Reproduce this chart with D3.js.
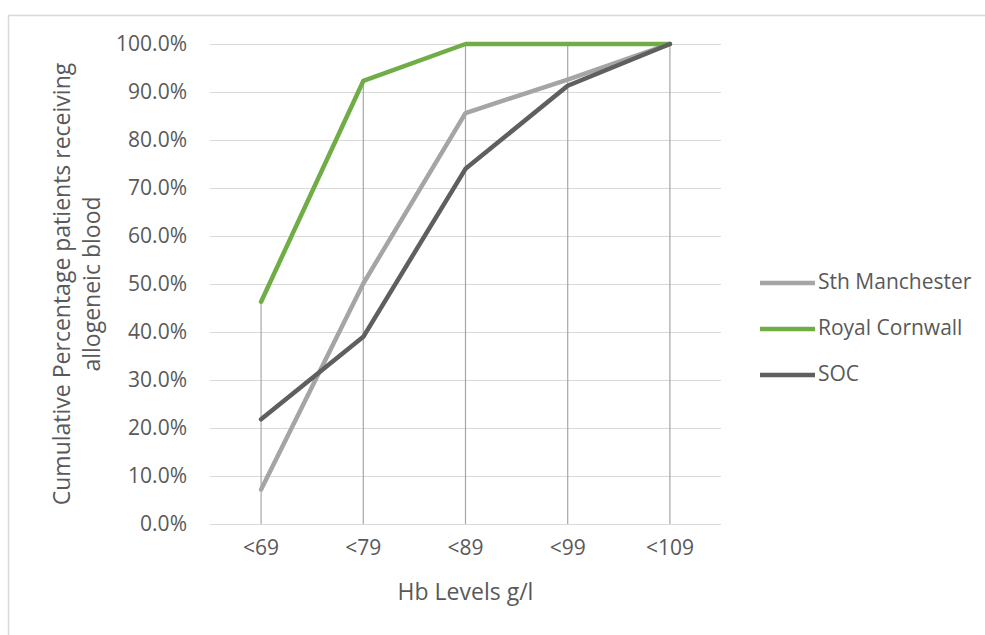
<!DOCTYPE html>
<html>
<head>
<meta charset="utf-8">
<script src="https://cdn.jsdelivr.net/npm/d3@7"></script>
<style>
  html, body { margin: 0; padding: 0; background: #fff; }
  svg { display: block; }
  text { font-family: "Open Sans", "Noto Sans", sans-serif; fill: #595959; }
</style>
</head>
<body>
<svg id="chart" width="985" height="635"></svg>
<script>
// Hb level bands (upper bound, g/l)
const categories = ["<69", "<79", "<89", "<99", "<109"];

// Cumulative share of patients receiving allogeneic blood, per site
const sthManchester = [0.072, 0.501, 0.856, 0.926, 1.0];
const royalCornwall = [0.463, 0.923, 1.0, 1.0, 1.0];
const soc = [0.218, 0.390, 0.740, 0.913, 1.0];

const seriesNames = ["Sth Manchester", "Royal Cornwall", "SOC"];
const seriesColors = ["#a5a5a5", "#70ad47", "#5f5f5f"];
const yTicks = [0, 0.1, 0.2, 0.3, 0.4, 0.5, 0.6, 0.7, 0.8, 0.9, 1.0];

const series = [sthManchester, royalCornwall, soc].map((values, i) => ({
  name: seriesNames[i],
  color: seriesColors[i],
  values
}));

const svg = d3.select("#chart");
const plot = { left: 210, right: 721, top: 44, bottom: 524 };

// Chart frame
svg.append("rect")
  .attr("x", 8.5).attr("y", 15.5)
  .attr("width", 1100).attr("height", 800)
  .attr("fill", "none")
  .attr("stroke", "#d9d9d9")
  .attr("stroke-width", 1.5);

const x = d3.scaleBand().domain(categories).range([plot.left, plot.right]);
const y = d3.scaleLinear().domain([0, 1]).range([plot.bottom, plot.top]);
const cx = c => x(c) + x.bandwidth() / 2;

// Horizontal gridlines and percentage labels
const yAxis = svg.append("g")
  .attr("transform", `translate(${plot.left},0)`)
  .call(d3.axisLeft(y)
    .tickValues(yTicks)
    .tickFormat(d3.format(".1%"))
    .tickSize(-(plot.right - plot.left))
    .tickPadding(23));
yAxis.select(".domain").remove();
yAxis.selectAll(".tick line").attr("stroke", "#d9d9d9").attr("stroke-width", 1.2);
yAxis.selectAll(".tick text")
  .attr("font-size", 21)
  .attr("fill", "#595959")
  .attr("font-family", "'Open Sans', sans-serif");

// Category labels
const xAxis = svg.append("g")
  .attr("transform", `translate(0,${plot.bottom})`)
  .call(d3.axisBottom(x).tickSize(0).tickPadding(16));
xAxis.select(".domain").remove();
xAxis.selectAll(".tick text")
  .attr("font-size", 21)
  .attr("fill", "#595959")
  .attr("font-family", "'Open Sans', sans-serif");

// Drop lines from the highest value in each band down to the axis
svg.append("g").selectAll("line")
  .data(categories)
  .join("line")
  .attr("x1", c => cx(c)).attr("x2", c => cx(c))
  .attr("y1", y(0))
  .attr("y2", (c, i) => y(d3.max(series, s => s.values[i])))
  .attr("stroke", "#a6a6a6")
  .attr("stroke-width", 1.2);

// Series lines
const line = d3.line()
  .x((d, i) => cx(categories[i]))
  .y(d => y(d));

svg.append("g").selectAll("path")
  .data(series)
  .join("path")
  .attr("d", s => line(s.values))
  .attr("fill", "none")
  .attr("stroke", s => s.color)
  .attr("stroke-width", 4.5)
  .attr("stroke-linejoin", "round")
  .attr("stroke-linecap", "round");

// Axis titles
svg.append("text")
  .attr("x", (plot.left + plot.right) / 2)
  .attr("y", 594)
  .attr("text-anchor", "middle")
  .attr("dominant-baseline", "middle")
  .attr("font-size", 23)
  .text("Hb Levels g/l");

const yTitle = svg.append("text")
  .attr("transform", `translate(62,${(plot.top + plot.bottom) / 2}) rotate(-90)`)
  .attr("text-anchor", "middle")
  .attr("font-size", 23);
yTitle.append("tspan").attr("x", 0).attr("dy", "0.35em").text("Cumulative Percentage patients receiving");
yTitle.append("tspan").attr("x", 0).attr("dy", 30).text("allogeneic blood");

// Legend
const legend = svg.append("g").selectAll("g")
  .data(series)
  .join("g")
  .attr("transform", (s, i) => `translate(760,${283 + i * 46})`);
legend.append("line")
  .attr("x1", 0).attr("x2", 55)
  .attr("stroke", s => s.color)
  .attr("stroke-width", 4.5);
legend.append("text")
  .attr("x", 58)
  .attr("dominant-baseline", "middle")
  .attr("font-size", 21)
  .text(s => s.name);
</script>
</body>
</html>
